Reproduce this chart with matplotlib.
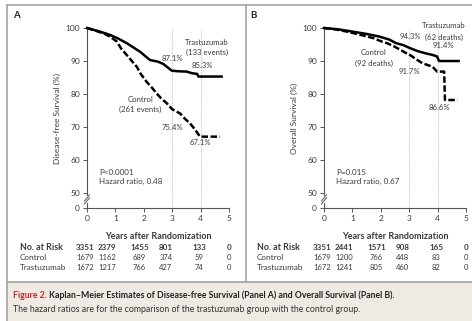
import matplotlib
matplotlib.use("Agg")
import matplotlib.pyplot as plt
from matplotlib.lines import Line2D
from matplotlib.patches import Rectangle
from matplotlib.transforms import blended_transform_factory

plt.rcParams['font.family'] = ['Lato', 'DejaVu Sans']

W, H = 472, 321

# ---- data ----
years = [0, 1, 2, 3, 4, 5]

# Panel A: disease-free survival
a_tras_t = [0, 0.2, 0.46, 0.81, 1.1, 1.4, 1.6, 1.87, 2.05, 2.22, 2.5, 2.69, 2.85, 2.98, 3.2, 3.51, 3.7, 3.88, 3.92, 4.74]
a_tras_s = [100, 99.5, 98.9, 97.9, 96.8, 95.4, 94.3, 92.8, 91.5, 90.3, 89.8, 89.1, 88.0, 87.1, 86.9, 86.8, 86.3, 86.1, 85.3, 85.3]
a_ctrl_t = [0, 0.3, 0.6, 0.81, 1.05, 1.2, 1.4, 1.6, 1.75, 1.9, 2.1, 2.3, 2.45, 2.6, 2.81, 3.0, 3.28, 3.45, 3.63, 3.8, 3.98, 4.68]
a_ctrl_s = [100, 99.2, 98.3, 97.4, 95.9, 93.8, 91.8, 89.8, 88.3, 86.0, 83.7, 81.8, 80.2, 78.8, 77.2, 75.4, 74.1, 72.5, 71.1, 69.3, 67.1, 67.1]
a_risk_all = ["3351", "2379", "1455", "801", "133", "0"]
a_risk_ctrl = ["1679", "1162", "689", "374", "59", "0"]
a_risk_tras = ["1672", "1217", "766", "427", "74", "0"]

# Panel B: overall survival
b_tras_t = [0, 0.5, 1.01, 1.5, 1.95, 2.3, 2.54, 2.8, 3.0, 3.3, 3.59, 3.8, 3.98, 4.05, 4.74]
b_tras_s = [100, 99.6, 98.9, 98.2, 97.4, 96.5, 95.4, 94.8, 94.0, 93.0, 92.3, 91.9, 91.4, 90.0, 90.0]
b_ctrl_t = [0, 0.4, 0.81, 1.3, 1.75, 2.0, 2.22, 2.45, 2.69, 2.85, 3.0, 3.2, 3.47, 3.82, 3.98, 4.23, 4.26, 4.70]
b_ctrl_s = [100, 99.6, 98.9, 97.9, 96.9, 96.0, 95.4, 94.5, 93.4, 92.6, 92.0, 90.8, 89.3, 88.3, 86.8, 86.8, 78.2, 78.2]
b_risk_all = ["3351", "2441", "1571", "908", "165", "0"]
b_risk_ctrl = ["1679", "1200", "766", "448", "83", "0"]
b_risk_tras = ["1672", "1241", "805", "460", "82", "0"]

# y axis is broken: 0 is drawn just below 50
Y_ZERO = 45.5
yticks = [Y_ZERO, 50, 60, 70, 80, 90, 100]
yticklabels = ["0", "50", "60", "70", "80", "90", "100"]

# centres of the risk table columns, in years
risk_cols = [-0.08, 0.7, 1.85, 2.78, 3.96, 4.99]

TXT = "#3a3a3a"


def fx(x):
    return x / W


def fy(y):
    return 1 - y / H


fig = plt.figure(figsize=(W / 100, H / 100), dpi=100)
fig.patch.set_facecolor("white")


def panel(x0, letter, ylabel, tt, ts, ct, cs, notes, pval, hr, risk):
    ax = fig.add_axes([fx(x0), fy(208), fx(142), (208 - 28) / H])
    ax.set_xlim(0, 5)
    ax.set_ylim(Y_ZERO, 100)
    for s in ["top", "right"]:
        ax.spines[s].set_visible(False)
    ax.spines["left"].set_bounds(Y_ZERO, 100)
    for s in ["left", "bottom"]:
        ax.spines[s].set_color("#555555")
        ax.spines[s].set_linewidth(0.8)
    ax.set_facecolor("none")
    ax.set_xticks(years)
    ax.set_yticks(yticks)
    ax.set_yticklabels(yticklabels)
    ax.tick_params(length=3, width=0.7, color="#555555", labelsize=6, labelcolor=TXT, pad=2)

    for xv in (3, 4):
        ax.plot([xv, xv], [Y_ZERO, 100], color="#b0b0b0", lw=0.6, ls=(0, (1, 1.2)), zorder=1)

    ax.plot(tt, ts, color="black", lw=1.8, clip_on=False, zorder=3)
    ax.plot(ct, cs, color="black", lw=1.8, ls=(0, (2.6, 1.0)), clip_on=False, zorder=3)

    # axis break marks
    ax.plot([0, 0], [47.3, 48.9], color="white", lw=1.5, clip_on=False, zorder=5)
    for dy in (0, 0.9):
        ax.plot([-0.09, 0.09], [46.7 + dy, 48.6 + dy], color="#555555", lw=0.7,
                clip_on=False, zorder=6)

    for (x, y, s) in notes:
        ax.text(x, y, s, fontsize=5.6, color=TXT, ha="center", va="center")
    ax.text(0.42, 56.1, pval, fontsize=5.8, color=TXT, ha="left", va="center")
    ax.text(0.42, 53.6, hr, fontsize=5.8, color=TXT, ha="left", va="center")

    ax.set_xlabel("Years after Randomization", fontsize=6.5, fontweight="bold", color=TXT, labelpad=7)
    fig.text(fx(x0 - 30), fy(118), ylabel, rotation=90, fontsize=6, color=TXT,
             ha="center", va="center")
    fig.text(fx(x0 - 74), fy(15), letter, fontsize=7, fontweight="bold", color="#222222",
             ha="left", va="center")

    tr = blended_transform_factory(ax.transData, fig.transFigure)
    rows = [("No. at Risk", risk[0], "bold", 248, 6.4, 5.8),
            ("Control", risk[1], "normal", 258, 5.9, 5.5),
            ("Trastuzumab", risk[2], "normal", 267, 5.9, 5.5)]
    for name, vals, wt, ypx, fs, fn in rows:
        fig.text(fx(x0 - 67), fy(ypx), name, fontsize=fs, fontweight=wt, color=TXT,
                 ha="left", va="center")
        for xc, v in zip(risk_cols, vals):
            ax.text(xc, fy(ypx), v, fontsize=fn, fontweight=wt, color=TXT,
                    ha="center", va="center", transform=tr)
    return ax


panel(87, "A", "Disease-free Survival (%)", a_tras_t, a_tras_s, a_ctrl_t, a_ctrl_s,
      [(4.23, 95.5, "Trastuzumab"), (4.23, 92.7, "(133 events)"),
       (3.0, 90.9, "87.1%"), (4.05, 88.5, "85.3%"),
       (1.87, 78.2, "Control"), (1.87, 75.2, "(261 events)"),
       (3.02, 70.0, "75.4%"), (4.0, 65.2, "67.1%")],
      "P<0.0001", "Hazard ratio, 0.48", (a_risk_all, a_risk_ctrl, a_risk_tras))

panel(324, "B", "Overall Survival (%)", b_tras_t, b_tras_s, b_ctrl_t, b_ctrl_s,
      [(4.22, 100.9, "Trastuzumab"), (4.24, 97.3, "(62 deaths)"),
       (3.03, 97.3, "94.3%"), (4.19, 94.8, "91.4%"),
       (1.76, 92.7, "Control"), (1.76, 89.4, "(92 deaths)"),
       (3.0, 86.7, "91.7%"), (4.08, 75.8, "86.6%")],
      "P=0.015", "Hazard ratio, 0.67", (b_risk_all, b_risk_ctrl, b_risk_tras))

# frame, separator and caption box
frame = "#9c9c9c"
fig.add_artist(Line2D([fx(6.5), 1], [fy(4.5), fy(4.5)], color=frame, lw=1.1))
fig.add_artist(Line2D([fx(6.5), fx(6.5)], [fy(4.5), 0], color=frame, lw=1.1))
fig.add_artist(Line2D([fx(246), fx(246)], [fy(4.5), fy(282)], color=frame, lw=1.1))
fig.add_artist(Rectangle((fx(7), 0), 1 - fx(7), fy(282), color="#efebe4", lw=0, zorder=-1))
fig.add_artist(Line2D([fx(6.5), 1], [fy(282), fy(282)], color=frame, lw=1.1))

cap = 6.3
t1 = fig.text(fx(13), fy(295), "Figure 2.", fontsize=cap, fontweight="bold", color="#c0272d",
              ha="left", va="center")
fig.canvas.draw()
bb = t1.get_window_extent()
fig.text(bb.x1 / W + fx(2.5), fy(295),
         "Kaplan\u2013Meier Estimates of Disease-free Survival (Panel A) and Overall Survival (Panel B).",
         fontsize=cap, fontweight="bold", color="#222222", ha="left", va="center")
fig.text(fx(13), fy(309),
         "The hazard ratios are for the comparison of the trastuzumab group with the control group.",
         fontsize=cap, color="#333333", ha="left", va="center")

fig.savefig("out.png", dpi=100)
